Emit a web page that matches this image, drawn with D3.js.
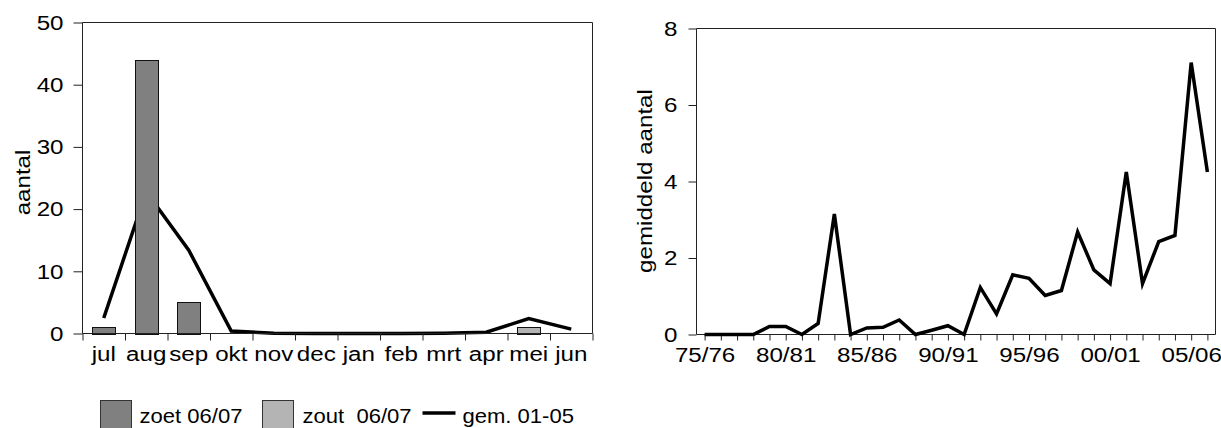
<!DOCTYPE html>
<html>
<head>
<meta charset="utf-8">
<script src="https://cdn.jsdelivr.net/npm/d3@7"></script>
<style>
  html, body { margin: 0; padding: 0; background: #fff; }
  svg { display: block; }
  text { font-family: "Liberation Sans", Arial, Helvetica, sans-serif; fill: #000; }
</style>
</head>
<body>
<svg id="chart" width="1221" height="428"></svg>
<script>
// Monthly counts for season 06/07 and the 01-05 monthly mean
const months = ["jul", "aug", "sep", "okt", "nov", "dec", "jan", "feb", "mrt", "apr", "mei", "jun"];
const zoet0607 = [1, 44, 5, 0, 0, 0, 0, 0, 0, 0, 0, 0];
const zout0607 = [0, 0, 0, 0, 0, 0, 0, 0, 0, 0, 1, 0];
const gem0105 = [2.5, 22.8, 13.4, 0.4, 0.05, 0, 0, 0, 0.03, 0.2, 2.4, 0.7];
const leftTicks = [0, 10, 20, 30, 40, 50];

// Seasonal mean counts 75/76 - 06/07
const seasons = ["75/76", "76/77", "77/78", "78/79", "79/80", "80/81", "81/82", "82/83",
  "83/84", "84/85", "85/86", "86/87", "87/88", "88/89", "89/90", "90/91", "91/92", "92/93",
  "93/94", "94/95", "95/96", "96/97", "97/98", "98/99", "99/00", "00/01", "01/02", "02/03",
  "03/04", "04/05", "05/06", "06/07"];
const gemSeason = [0, 0, 0, 0, 0.21, 0.21, 0, 0.29, 3.15, 0, 0.17, 0.19, 0.38, 0, 0.11, 0.23,
  0, 1.23, 0.54, 1.56, 1.47, 1.02, 1.15, 2.68, 1.69, 1.33, 4.25, 1.33, 2.43, 2.59, 7.11, 4.25];
const seasonLabels = ["75/76", "80/81", "85/86", "90/91", "95/96", "00/01", "05/06"];
const rightTicks = [0, 2, 4, 6, 8];

const FONT = 21;        // label font size
const STRETCH = 1.15;   // horizontal widening of the axis label glyphs
const LEG_STRETCH = 1.05;
const AXIS = "#222";

const svg = d3.select("#chart");

// widen text along its reading direction, keeping its anchor point fixed
function widen(sel, k) {
  sel.each(function () {
    const t = d3.select(this);
    const x = +t.attr("x") || 0;
    t.attr("transform", `translate(${x},0) scale(${k},1) translate(${-x},0)`);
  });
}

function styleAxis(g) {
  g.selectAll("path.domain").remove();
  g.selectAll(".tick line").attr("stroke", AXIS).attr("stroke-width", 1);
  g.selectAll(".tick text").style("font-size", FONT + "px").attr("fill", "#000");
  g.attr("font-family", null).attr("font-size", null);
}

/* ---------- left panel: monthly counts ---------- */
const L = { x0: 82.5, x1: 592.5, y0: 22.5, y1: 333.5 };

const xL = d3.scaleBand().domain(months).range([L.x0, L.x1]).paddingInner(0.46).paddingOuter(0.23);
const xLedge = d3.scaleLinear().domain([0, months.length]).range([L.x0, L.x1]);
const yL = d3.scaleLinear().domain([0, 50]).range([L.y1, L.y0]);

const left = svg.append("g");

// mean line (drawn under the bars)
left.append("path")
  .datum(gem0105)
  .attr("fill", "none")
  .attr("stroke", "#000")
  .attr("stroke-width", 3.5)
  .attr("stroke-linejoin", "miter")
  .attr("d", d3.line()
    .x((d, i) => xL(months[i]) + xL.bandwidth() / 2)
    .y(d => yL(d)));

// bars
const barData = [];
months.forEach((m, i) => {
  if (zoet0607[i] > 0) barData.push({ m, v: zoet0607[i], fill: "#808080" });
  if (zout0607[i] > 0) barData.push({ m, v: zout0607[i], fill: "#b4b4b4" });
});
left.selectAll("rect.bar").data(barData).enter().append("rect")
  .attr("class", "bar")
  .attr("x", d => Math.round(xL(d.m)) + 0.5)
  .attr("y", d => Math.round(yL(d.v)) + 0.5)
  .attr("width", Math.round(xL.bandwidth()))
  .attr("height", d => Math.round(yL(0)) - Math.round(yL(d.v)))
  .attr("fill", d => d.fill)
  .attr("stroke", "#111")
  .attr("stroke-width", 1);

// frame
left.append("path")
  .attr("d", `M${L.x0},${L.y1}V${L.y0}H${L.x1}V${L.y1}H${L.x0}`)
  .attr("fill", "none").attr("stroke", AXIS).attr("stroke-width", 1);

// y axis
const yAxL = left.append("g").attr("transform", `translate(${L.x0},0)`)
  .call(d3.axisLeft(yL).tickValues(leftTicks).tickSize(9).tickPadding(10).tickSizeOuter(0));
styleAxis(yAxL);
widen(yAxL.selectAll(".tick text"), STRETCH);

// x tick marks at month boundaries
const xTkL = left.append("g").attr("transform", `translate(0,${L.y1})`)
  .call(d3.axisBottom(xLedge).tickValues(d3.range(0, months.length + 1)).tickSize(7).tickFormat("").tickSizeOuter(0));
styleAxis(xTkL);

// month labels
const xLabL = left.append("g").attr("transform", `translate(0,${L.y1})`)
  .call(d3.axisBottom(xL).tickSize(0).tickPadding(12.6).tickSizeOuter(0));
styleAxis(xLabL);
xLabL.selectAll(".tick line").remove();
widen(xLabL.selectAll(".tick text"), STRETCH);

// y title
left.append("text")
  .attr("transform", `translate(30,182.5) rotate(-90) scale(${STRETCH},1)`)
  .attr("text-anchor", "middle")
  .style("font-size", FONT + "px")
  .text("aantal");

/* ---------- right panel: seasonal means ---------- */
const R = { x0: 696.5, x1: 1215.5, y0: 28.5, y1: 334.5 };

const xR = d3.scalePoint().domain(seasons).range([R.x0, R.x1]).padding(0.5);
const yR = d3.scaleLinear().domain([0, 8]).range([R.y1, R.y0]);

const right = svg.append("g");

right.append("path")
  .attr("d", `M${R.x0},${R.y1}V${R.y0}H${R.x1}V${R.y1}H${R.x0}`)
  .attr("fill", "none").attr("stroke", AXIS).attr("stroke-width", 1);

const yAxR = right.append("g").attr("transform", `translate(${R.x0},0)`)
  .call(d3.axisLeft(yR).tickValues(rightTicks).tickSize(8).tickPadding(11).tickSizeOuter(0));
styleAxis(yAxR);
widen(yAxR.selectAll(".tick text"), STRETCH);

const xAxR = right.append("g").attr("transform", `translate(0,${R.y1})`)
  .call(d3.axisBottom(xR).tickSize(6).tickPadding(6.6).tickSizeOuter(0)
    .tickFormat(d => seasonLabels.includes(d) ? d : ""));
styleAxis(xAxR);
widen(xAxR.selectAll(".tick text"), STRETCH);

right.append("path")
  .datum(gemSeason)
  .attr("fill", "none")
  .attr("stroke", "#000")
  .attr("stroke-width", 3.5)
  .attr("stroke-linejoin", "miter")
  .attr("d", d3.line()
    .x((d, i) => xR(seasons[i]))
    .y(d => yR(d)));

right.append("text")
  .attr("transform", `translate(652,181) rotate(-90) scale(${STRETCH},1)`)
  .attr("text-anchor", "middle")
  .style("font-size", FONT + "px")
  .text("gemiddeld aantal");

/* ---------- legend ---------- */
const legend = svg.append("g");
const legendItems = [
  { type: "rect", fill: "#808080", label: "zoet 06/07", x: 100.5, tx: 139.5 },
  { type: "rect", fill: "#b4b4b4", label: "zout\u00a0 06/07", x: 262.5, tx: 302.5 },
  { type: "line", label: "gem. 01-05", x: 422.5, tx: 462.5 }
];
legendItems.forEach(it => {
  if (it.type === "rect") {
    legend.append("rect")
      .attr("x", it.x).attr("y", 400.5)
      .attr("width", 31).attr("height", 32)
      .attr("fill", it.fill).attr("stroke", "#333").attr("stroke-width", 1);
  } else {
    legend.append("line")
      .attr("x1", it.x).attr("x2", it.x + 33)
      .attr("y1", 413).attr("y2", 413)
      .attr("stroke", "#000").attr("stroke-width", 3.5);
  }
  legend.append("text")
    .attr("x", it.tx).attr("y", 423.3)
    .style("font-size", FONT + "px")
    .text(it.label);
});
widen(legend.selectAll("text"), LEG_STRETCH);
</script>
</body>
</html>
